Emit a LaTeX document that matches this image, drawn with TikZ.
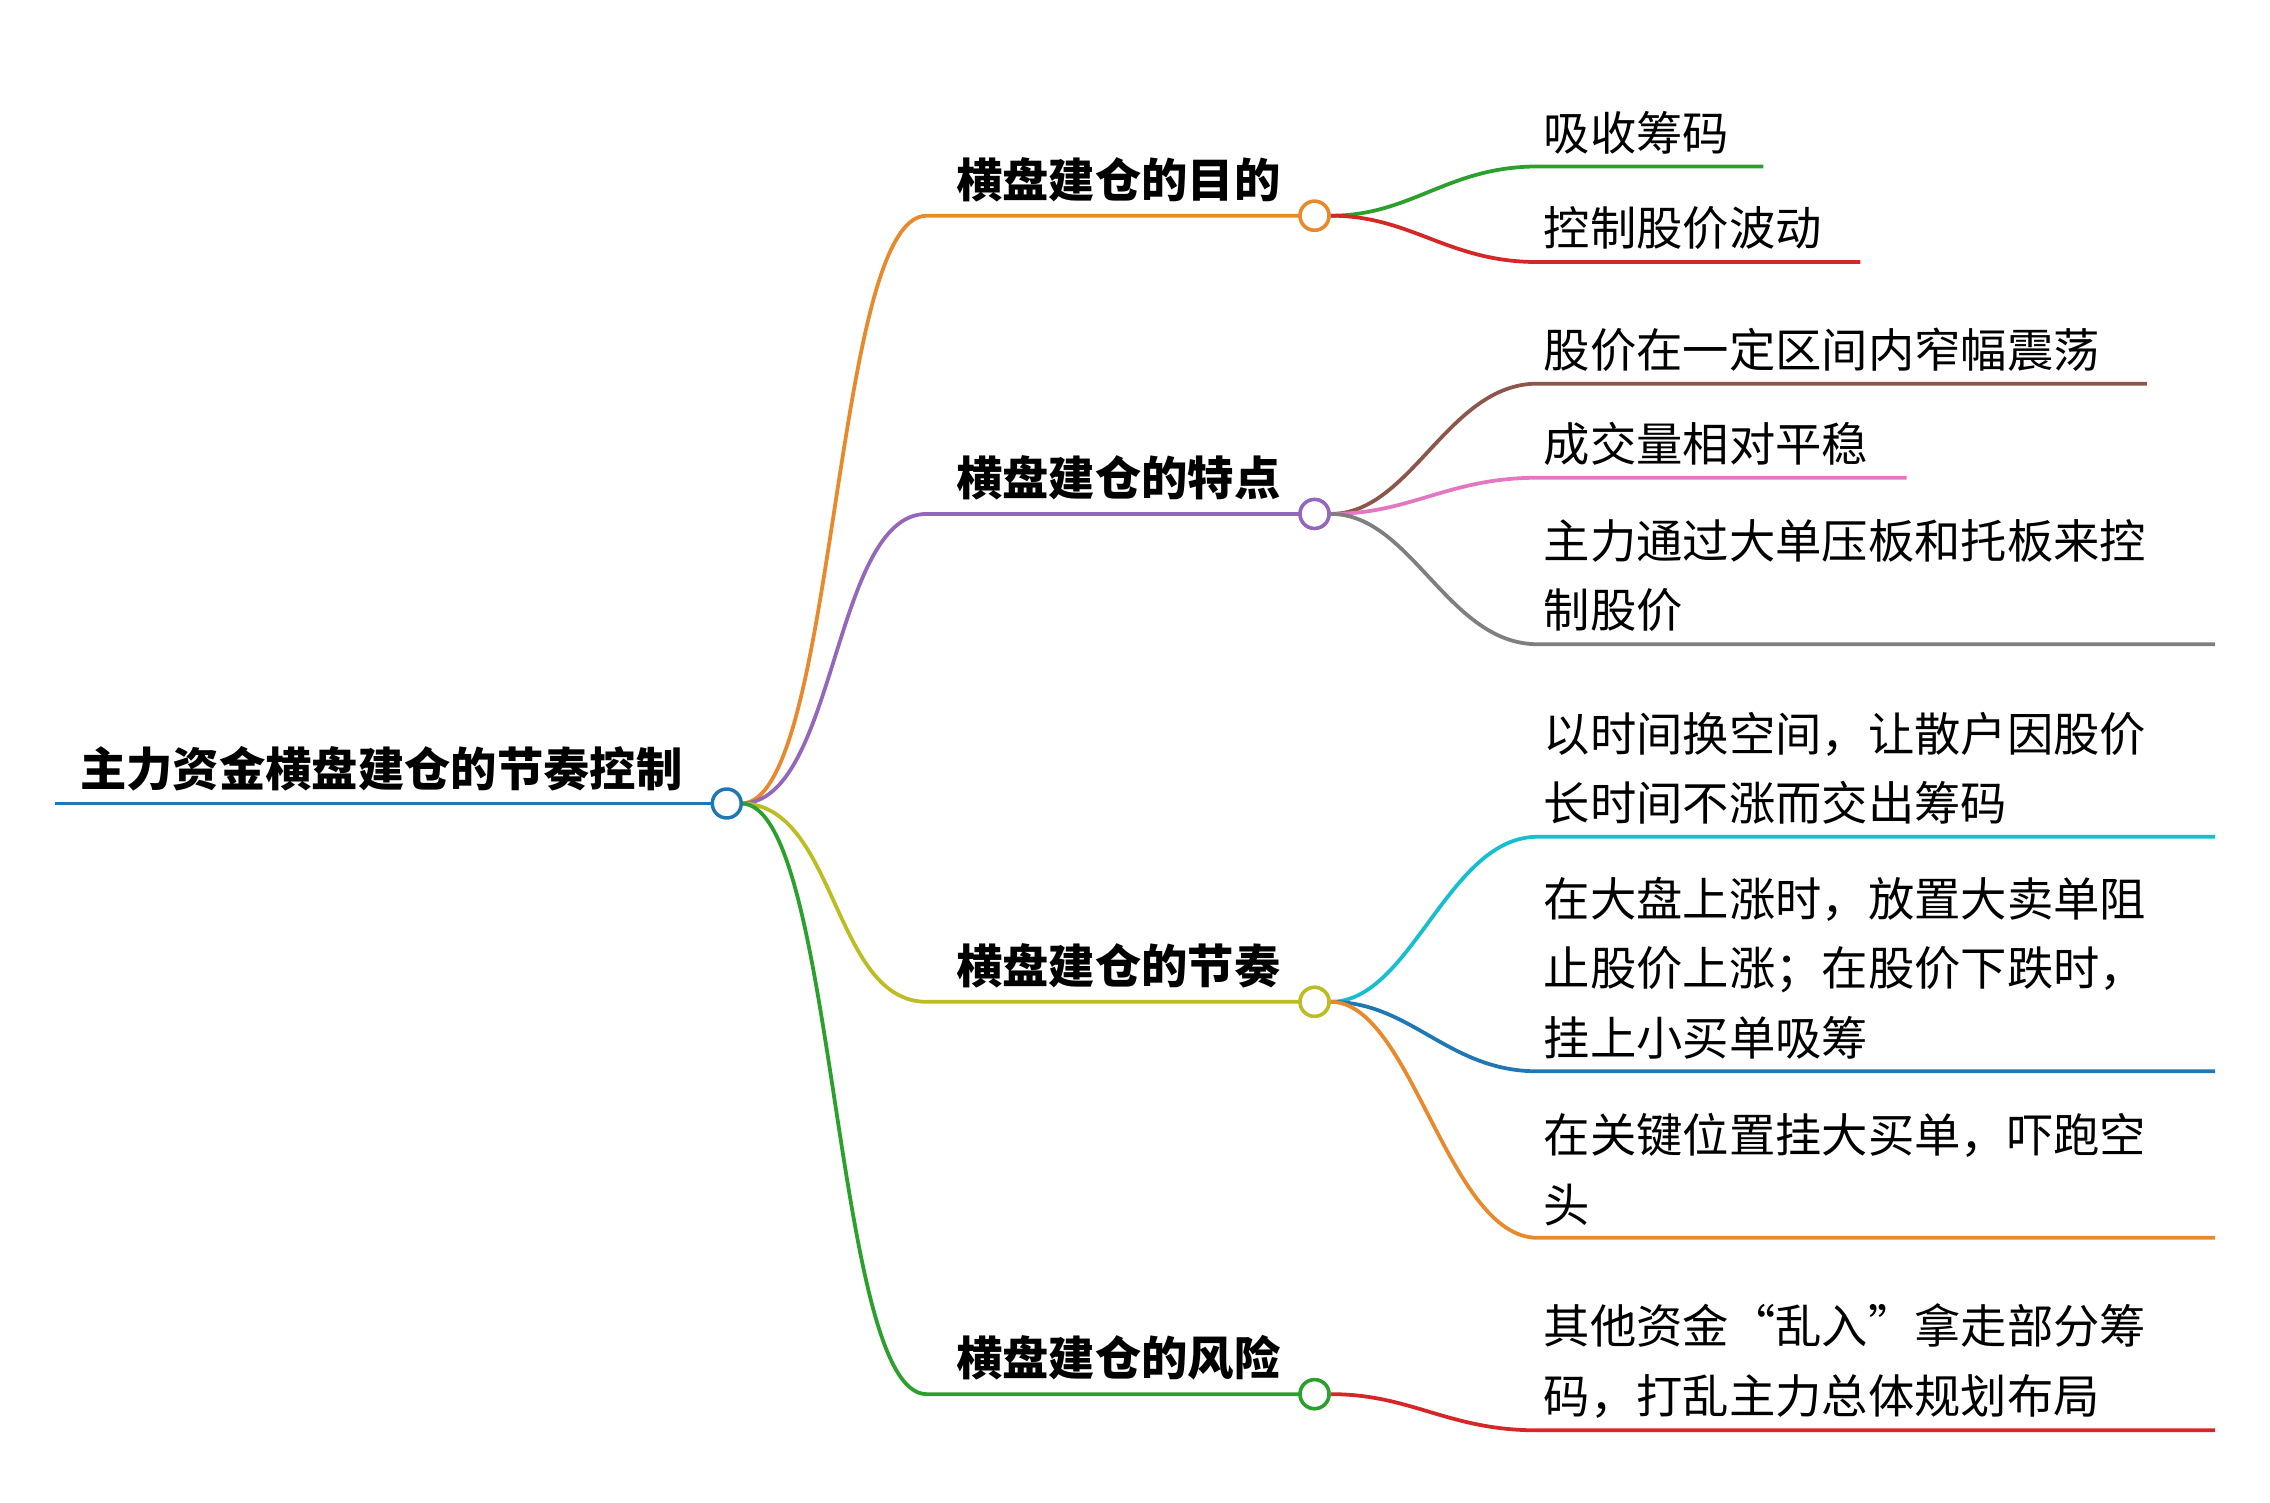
\documentclass[tikz,border=0pt]{standalone}
\usepackage{fontspec}
\setmainfont{Noto Sans CJK SC}
\definecolor{cblue}{HTML}{1F77B4}
\definecolor{corange}{HTML}{E8892B}
\definecolor{cgreen}{HTML}{2CA02C}
\definecolor{cred}{HTML}{D62728}
\definecolor{cpurple}{HTML}{9467BD}
\definecolor{cbrown}{HTML}{8C564B}
\definecolor{cpink}{HTML}{E377C2}
\definecolor{cgray}{HTML}{7F7F7F}
\definecolor{colive}{HTML}{BCBD22}
\definecolor{ccyan}{HTML}{17BECF}
\tikzset{
  knot/.style={circle, draw=#1, fill=white, line width=1.2pt, minimum size=10pt, inner sep=0pt},
  branch/.style={line width=1.3pt, draw=#1},
  toptext/.style={font=\fontsize{16}{20}\selectfont\bfseries, anchor=south west, inner sep=0pt},
  leaftext/.style={font=\fontsize{16}{24}\selectfont, anchor=south west, inner sep=0pt, align=left}
}
\begin{document}
\begin{tikzpicture}[x=0.5pt, y=-0.5pt]
\useasboundingbox (0,0) rectangle (1568,1038);

% root
\coordinate (rootstart) at (38,555);
\draw[branch=cblue] (rootstart) -- (492,555);
\node[toptext] (roottext) at (55,547) {主力资金横盘建仓的节奏控制};

% main branches
\foreach \name/\y/\col/\txt in {goal/149/corange/横盘建仓的目的, feat/355/cpurple/横盘建仓的特点,
    rhythm/692/colive/横盘建仓的节奏, risk/963/cgreen/横盘建仓的风险} {
  \draw[branch=\col] (512,555) .. controls (578,555) and (575,\y) .. (640,\y) -- (898,\y);
  \node[toptext] (\name text) at (660,\y-9) {\txt};
  \node[knot=\col] (\name) at (908,\y) {};
}
\node[knot=cblue] (root) at (502,555) {};

% leaves
\foreach \from/\py/\y/\xend/\col/\txt in {
    goal/149/115/1218/cgreen/吸收筹码,
    goal/149/181/1285/cred/控制股价波动,
    feat/355/265/1483/cbrown/股价在一定区间内窄幅震荡,
    feat/355/330/1317/cpink/成交量相对平稳,
    feat/355/445/1530/cgray/{主力通过大单压板和托板来控\\制股价},
    rhythm/692/578/1530/ccyan/{以时间换空间，让散户因股价\\长时间不涨而交出筹码},
    rhythm/692/740/1530/cblue/{在大盘上涨时，放置大卖单阻\\止股价上涨；在股价下跌时，\\挂上小买单吸筹},
    rhythm/692/855/1530/corange/{在关键位置挂大买单，吓跑空\\头},
    risk/963/988/1530/cred/{其他资金“乱入”拿走部分筹\\码，打乱主力总体规划布局}} {
  \draw[branch=\col] (\from.east) .. controls (975,\py) and (1000,\y) .. (1062,\y) -- (\xend,\y);
  \node[leaftext] at (1066,\y-8) {\txt};
}
\node[knot=corange] at (goal) {};
\node[knot=cpurple] at (feat) {};
\node[knot=colive] at (rhythm) {};
\node[knot=cgreen] at (risk) {};
\end{tikzpicture}
\end{document}
